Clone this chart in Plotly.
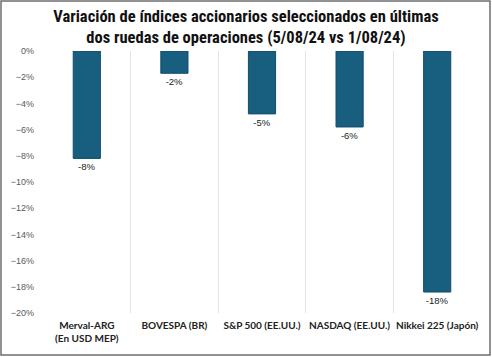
import plotly.graph_objects as go

categories = ["Merval-ARG<br>(En USD MEP)", "BOVESPA (BR)", "S&P 500 (EE.UU.)", "NASDAQ (EE.UU.)", "Nikkei 225 (Japón)"]
values = [-0.082, -0.017, -0.048, -0.058, -0.184]
y_ticks = [0, -0.02, -0.04, -0.06, -0.08, -0.10, -0.12, -0.14, -0.16, -0.18, -0.20]

W, H = 492, 357
L, R, T, B = 43, 11, 51, 44
pw, ph = W - L - R, H - T - B

fig = go.Figure(go.Bar(
    x=categories, y=values,
    marker=dict(color="#175E7F", line=dict(color="#124E6A", width=1)),
    width=0.31,
    texttemplate="%{y:.0%}", textposition="outside",
    textfont=dict(family="Liberation Sans, Arial", size=9.5, color="#222222"),
    cliponaxis=False,
))

fig.update_layout(
    width=W, height=H,
    margin=dict(l=L, r=R, t=T, b=B, autoexpand=False),
    paper_bgcolor="white", plot_bgcolor="white",
    showlegend=False,
    title=dict(
        text="Variación de índices accionarios seleccionados en últimas<br>dos ruedas de operaciones (5/08/24 vs 1/08/24)",
        x=0.5, xref="container", xanchor="center",
        y=1 - 22 / H, yref="container", yanchor="middle",
        font=dict(family="Liberation Sans Narrow, Arial Narrow, Roboto Condensed, sans-serif", size=16.5, color="#111111", weight="bold"),
    ),
    xaxis=dict(
        type="category", automargin=False, tickangle=0,
        tickson="boundaries", showgrid=True, gridcolor="#E3E3E3", gridwidth=1,
        ticks="", showline=False, zeroline=False,
        tickfont=dict(family="Lato, Roboto, sans-serif", size=10, color="#222222", weight="bold"),
        range=[-0.5, 4.5], ticklabelstandoff=5,
    ),
    yaxis=dict(
        range=[-0.20, 0], tickvals=y_ticks, tickformat=".0%", automargin=False,
        showgrid=False, zeroline=False, showline=False, ticks="",
        tickfont=dict(family="Liberation Sans, Arial", size=9, color="#595959"),
        ticklabelstandoff=8,
    ),
    shapes=[dict(
        type="rect", xref="paper", yref="paper",
        x0=(1 - L) / pw, x1=(490 - L) / pw,
        y0=(H - B - 355) / ph, y1=(H - B - 1) / ph,
        line=dict(color="#6E6E6E", width=1.5), fillcolor="rgba(0,0,0,0)", layer="below",
    )],
    font=dict(family="Liberation Sans, Arial"),
)

fig.write_html("out.html", config={"displayModeBar": False},
               post_script="document.body.style.margin='0';")
